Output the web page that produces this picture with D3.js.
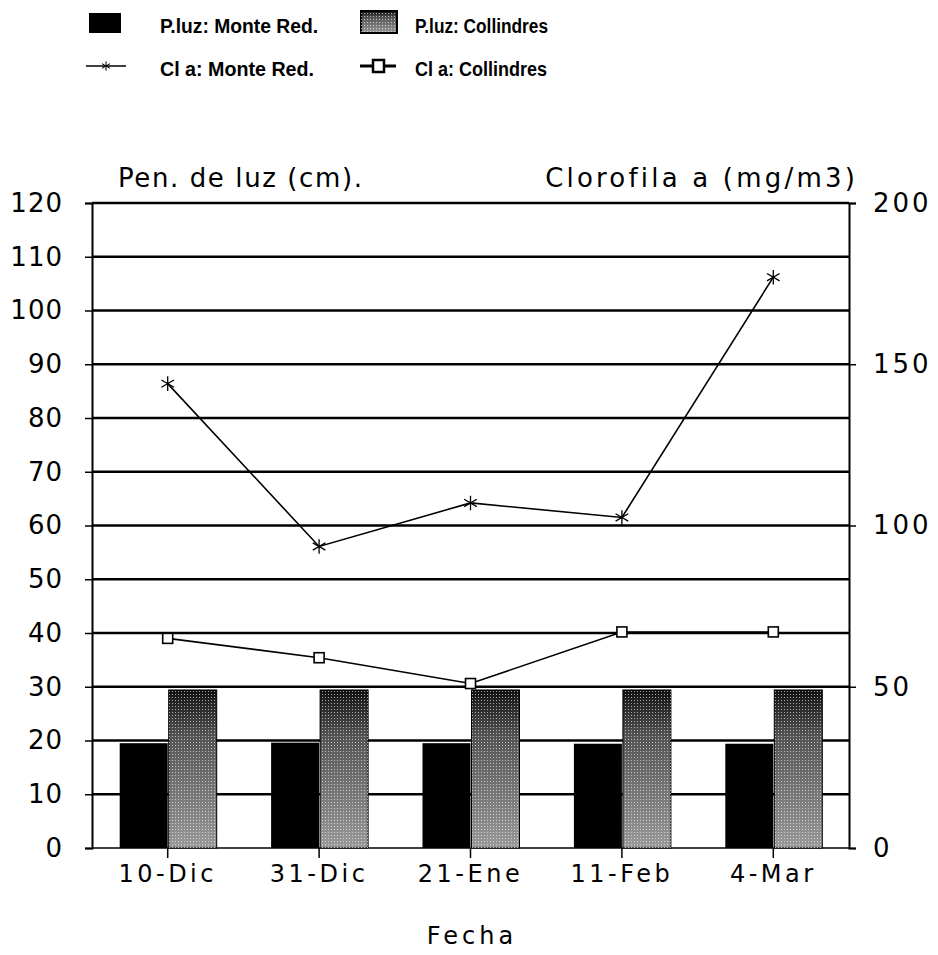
<!DOCTYPE html>
<html>
<head>
<meta charset="utf-8">
<script src="https://cdn.jsdelivr.net/npm/d3@7"></script>
<style>
  body { margin: 0; background: #fff; }
  svg text { font-family: "DejaVu Sans", sans-serif; fill: #000; }
</style>
</head>
<body>
<svg id="chart" width="938" height="955"></svg>
<script>
// Data
const fechas = ["10-Dic", "31-Dic", "21-Ene", "11-Feb", "4-Mar"];
const luzMonteRed = [19.5, 19.6, 19.5, 19.4, 19.4];
const luzCollindres = [29.4, 29.4, 29.4, 29.4, 29.4];
const cloMonteRed = [144, 93.5, 107, 102.5, 177];
const cloCollindres = [65, 59, 51, 67, 67];
const leftTicks = d3.range(0, 121, 10);
const rightTicks = [0, 50, 100, 150, 200];

const svg = d3.select("#chart");

const pLeft = 92, pRight = 849, pTop = 203, pBottom = 848;

const x = d3.scaleBand().domain(fechas).range([pLeft, pRight]).padding(0);
const yL = d3.scaleLinear().domain([0, 120]).range([pBottom, pTop]);
const yR = d3.scaleLinear().domain([0, 200]).range([pBottom, pTop]);

// Shading for the Collindres bars
const defs = svg.append("defs");
const grad = defs.append("linearGradient")
    .attr("id", "shade").attr("x1", 0).attr("y1", 0).attr("x2", 0).attr("y2", 1);
grad.append("stop").attr("offset", "0%").attr("stop-color", "#111");
grad.append("stop").attr("offset", "30%").attr("stop-color", "#555");
grad.append("stop").attr("offset", "100%").attr("stop-color", "#999");
const pat = defs.append("pattern")
    .attr("id", "dots").attr("width", 3).attr("height", 3)
    .attr("patternUnits", "userSpaceOnUse");
pat.append("rect").attr("width", 3).attr("height", 3).attr("fill", "none");
pat.append("rect").attr("x", 1).attr("y", 1).attr("width", 1).attr("height", 1).attr("fill", "#fff").attr("opacity", 0.6);

// Grid lines
svg.append("g")
    .selectAll("line")
    .data(leftTicks)
    .join("line")
    .attr("x1", pLeft).attr("x2", pRight)
    .attr("y1", d => yL(d)).attr("y2", d => yL(d))
    .attr("stroke", "#000")
    .attr("stroke-width", d => d === 0 ? 1.5 : 2.5);

// Bars
const bw = 48;
svg.append("g")
    .selectAll("rect")
    .data(fechas)
    .join("rect")
    .attr("x", d => x(d) + x.bandwidth() / 2 - bw)
    .attr("y", (d, i) => yL(luzMonteRed[i]))
    .attr("width", bw)
    .attr("height", (d, i) => yL(0) - yL(luzMonteRed[i]))
    .attr("fill", "#000");

const gBars = svg.append("g");
gBars.selectAll("rect.shade")
    .data(fechas)
    .join("rect")
    .attr("class", "shade")
    .attr("x", d => x(d) + x.bandwidth() / 2 + 1)
    .attr("y", (d, i) => yL(luzCollindres[i]))
    .attr("width", bw)
    .attr("height", (d, i) => yL(0) - yL(luzCollindres[i]))
    .attr("fill", "url(#shade)")
    .attr("stroke", "#000")
    .attr("stroke-width", 1);
gBars.selectAll("rect.dots")
    .data(fechas)
    .join("rect")
    .attr("class", "dots")
    .attr("x", d => x(d) + x.bandwidth() / 2 + 1)
    .attr("y", (d, i) => yL(luzCollindres[i]))
    .attr("width", bw)
    .attr("height", (d, i) => yL(0) - yL(luzCollindres[i]))
    .attr("fill", "url(#dots)");

// Axes
const axisL = d3.axisLeft(yL).tickValues(leftTicks).tickSize(7).tickPadding(22);
const gL = svg.append("g").attr("transform", `translate(${pLeft},0)`).call(axisL);
const axisR = d3.axisRight(yR).tickValues(rightTicks).tickSize(7).tickPadding(17);
const gR = svg.append("g").attr("transform", `translate(${pRight},0)`).call(axisR);
const axisB = d3.axisBottom(x).tickSize(10).tickPadding(7);
const gB = svg.append("g").attr("transform", `translate(0,${pBottom})`).call(axisB);

[gL, gR, gB].forEach(g => {
    g.select(".domain").attr("stroke", "#000").attr("stroke-width", 2);
    g.selectAll(".tick line").attr("stroke", "#000").attr("stroke-width", 1.5);
    g.selectAll("text")
        .style("font-family", "DejaVu Sans, sans-serif")
        .attr("fill", "#000");
});
gL.selectAll("text").style("font-size", "26px").style("letter-spacing", "1px");
gR.selectAll("text").style("font-size", "26px").style("letter-spacing", "3px");
gB.select(".domain").remove();
gB.selectAll("text").style("font-size", "24px").style("letter-spacing", "3.5px");

// Lines
const line = d3.line()
    .x(d => x(d[0]) + x.bandwidth() / 2)
    .y(d => yR(d[1]));

const mrPts = fechas.map((f, i) => [f, cloMonteRed[i]]);
const coPts = fechas.map((f, i) => [f, cloCollindres[i]]);

svg.append("path").datum(mrPts).attr("d", line)
    .attr("fill", "none").attr("stroke", "#000").attr("stroke-width", 1.6);
svg.append("path").datum(coPts).attr("d", line)
    .attr("fill", "none").attr("stroke", "#000").attr("stroke-width", 1.6);

const star = d3.symbol().type(d3.symbolAsterisk).size(150);
svg.append("g").selectAll("path")
    .data(mrPts)
    .join("path")
    .attr("d", star)
    .attr("transform", d => `translate(${x(d[0]) + x.bandwidth() / 2},${yR(d[1])})`)
    .attr("fill", "none").attr("stroke", "#000").attr("stroke-width", 1.3);

svg.append("g").selectAll("rect")
    .data(coPts)
    .join("rect")
    .attr("x", d => x(d[0]) + x.bandwidth() / 2 - 5)
    .attr("y", d => yR(d[1]) - 5)
    .attr("width", 10).attr("height", 10)
    .attr("fill", "#fff").attr("stroke", "#000").attr("stroke-width", 1.6);

// Axis titles
svg.append("text").attr("x", 118).attr("y", 187)
    .style("font-size", "26px").style("letter-spacing", "1.6px")
    .text("Pen. de luz (cm).");
svg.append("text").attr("x", 858).attr("y", 187).attr("text-anchor", "end")
    .style("font-size", "26px").style("letter-spacing", "3.2px")
    .text("Clorofila a (mg/m3)");
svg.append("text").attr("x", 472).attr("y", 944).attr("text-anchor", "middle")
    .style("font-size", "24px").style("letter-spacing", "4px")
    .text("Fecha");

// Legend
const lg = svg.append("g");
const legText = (tx, ty, s, w) => lg.append("text").attr("x", tx).attr("y", ty)
    .attr("textLength", w).attr("lengthAdjust", "spacingAndGlyphs")
    .style("font-family", "Liberation Sans, Arial, sans-serif")
    .style("font-weight", "bold").style("font-size", "20px")
    .text(s);

lg.append("rect").attr("x", 89).attr("y", 13).attr("width", 32).attr("height", 20).attr("fill", "#000");
legText(160, 33, "P.luz: Monte Red.", 158);

lg.append("rect").attr("x", 361).attr("y", 11).attr("width", 36).attr("height", 22)
    .attr("fill", "url(#shade)").attr("stroke", "#000").attr("stroke-width", 2);
lg.append("rect").attr("x", 361).attr("y", 11).attr("width", 36).attr("height", 22)
    .attr("fill", "url(#dots)");
legText(415, 33, "P.luz: Collindres", 133);

lg.append("line").attr("x1", 86).attr("x2", 126).attr("y1", 66).attr("y2", 66)
    .attr("stroke", "#000").attr("stroke-width", 1.3);
lg.append("path").attr("d", d3.symbol().type(d3.symbolAsterisk).size(60))
    .attr("transform", "translate(106,66)").attr("fill", "none")
    .attr("stroke", "#000").attr("stroke-width", 1);
legText(160, 76, "Cl a: Monte Red.", 154);

lg.append("line").attr("x1", 360).attr("x2", 396).attr("y1", 66).attr("y2", 66)
    .attr("stroke", "#000").attr("stroke-width", 3);
lg.append("rect").attr("x", 373).attr("y", 60).attr("width", 11).attr("height", 12)
    .attr("fill", "#fff").attr("stroke", "#000").attr("stroke-width", 2.5);
legText(415, 76, "Cl  a: Collindres", 132);
</script>
</body>
</html>
